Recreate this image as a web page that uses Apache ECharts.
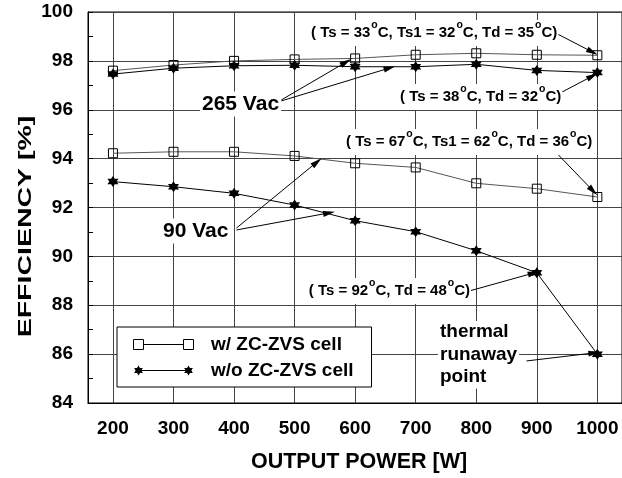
<!DOCTYPE html>
<html>
<head>
<meta charset="utf-8">
<script src="https://cdn.jsdelivr.net/npm/echarts@6/dist/echarts.min.js"></script>
<style>
html, body { margin: 0; padding: 0; background: #fff; }
#main { width: 622px; height: 478px; }
</style>
</head>
<body>
<div id="main"></div>
<script>
var power = [200, 300, 400, 500, 600, 700, 800, 900, 1000];
// 265 Vac
var zc265 = [97.6, 97.83, 98.0, 98.06, 98.1, 98.25, 98.31, 98.25, 98.23];
var no265 = [97.46, 97.7, 97.8, 97.82, 97.76, 97.76, 97.86, 97.61, 97.52];
// 90 Vac
var zc90 = [94.22, 94.28, 94.28, 94.11, 93.81, 93.64, 92.99, 92.77, 92.43];
var no90 = [93.06, 92.85, 92.58, 92.10, 91.46, 91.01, 90.23, 89.33, 86.0];

// annotation arrows, axis units: [fromW, fromEff, toW, toEff]
var arrows = [
  [931, 99.14, 992, 98.36],
  [478, 96.40, 585, 97.95],
  [478, 96.36, 657, 97.71],
  [939, 96.69, 992, 97.38],
  [931, 94.27, 993, 92.68],
  [404, 91.16, 537, 93.86],
  [404, 91.08, 557, 91.78],
  [788, 88.58, 895, 89.32],
  [883, 85.72, 995, 86.05]
];

var FONT = "'Liberation Sans', Arial, Helvetica, sans-serif";
var STAR = 'path://M10,0L12.89,5L18.66,5L15.77,10L18.66,15L12.89,15L10,20L7.11,15L1.34,15L4.23,10L1.34,5L7.11,5Z';
var LEG_SQ = 'path://M0,0L10,0L10,10L0,10Z M10,5L50,5 M50,0L60,0L60,10L50,10Z';
var LEG_STAR = 'path://M5,0L6.44,2.5L9.33,2.5L7.89,5L9.33,7.5L6.44,7.5L5,10L3.56,7.5L0.67,7.5L2.11,5L0.67,2.5L3.56,2.5Z' +
  'M55,0L56.44,2.5L59.33,2.5L57.89,5L59.33,7.5L56.44,7.5L55,10L53.56,7.5L50.67,7.5L52.11,5L50.67,2.5L53.56,2.5Z' +
  'M5,4.5L55,4.5L55,5.5L5,5.5Z';

function pairs(ys) {
  return power.map(function (p, i) { return [p, ys[i]]; });
}

function deg(s) {
  return s.replace(/°/g, '{sup|o}');
}

function note(text, x, y, align) {
  return {
    type: 'text', x: x, y: y, z: 100,
    style: {
      text: deg(text), align: align || 'left', verticalAlign: 'middle',
      fontFamily: FONT, fontSize: 15, fontWeight: 'bold', fill: '#000',
      lineHeight: 26, backgroundColor: '#fff', padding: [0, 1],
      rich: {
        sup: { fontSize: 10.5, fontWeight: 'bold', fontFamily: FONT, lineHeight: 9, verticalAlign: 'top', padding: [0, 0, 0, 1] }
      }
    }
  };
}

function bigText(text, x, y) {
  return {
    type: 'text', x: x, y: y, z: 100,
    style: {
      text: text, align: 'left', verticalAlign: 'middle',
      fontFamily: FONT, fontSize: 21, fontWeight: 'bold', fill: '#000',
      backgroundColor: '#fff', padding: [2, 2]
    }
  };
}

var arrowLines = arrows.map(function (a) {
  return [
    { coord: [a[0], a[1]], symbol: 'none' },
    { coord: [a[2], a[3]], symbol: 'path://M0,0L4,12L-4,12Z', symbolSize: [6, 12] }
  ];
});

var chart = echarts.init(document.getElementById('main'));
chart.setOption({
  animation: false,
  textStyle: { fontFamily: FONT },
  grid: {
    left: 88, top: 12, right: -2, bottom: 75,
    show: true, borderColor: '#000', borderWidth: 1
  },
  xAxis: {
    type: 'value', min: 158.8, max: 1040.7,
    name: 'OUTPUT POWER [W]', nameLocation: 'middle', nameGap: 48,
    nameTextStyle: { fontSize: 21.5, fontWeight: 'bold', color: '#000', padding: [0, 0, 0, 8] },
    axisLine: { show: true, lineStyle: { color: '#000' } },
    axisTick: { show: false, customValues: power },
    axisLabel: {
      customValues: power, fontSize: 19, fontWeight: 'bold', color: '#000', margin: 16,
      formatter: function (v) { return String(v); }
    },
    splitLine: { show: true, lineStyle: { color: '#444', width: 1 } }
  },
  yAxis: {
    type: 'value', min: 84, max: 100, interval: 2,
    axisLine: { show: true, lineStyle: { color: '#000' } },
    axisTick: { show: true, inside: true, length: 5, lineStyle: { color: '#000' } },
    minorTick: { show: true, splitNumber: 2, length: 5, lineStyle: { color: '#000' } },
    axisLabel: { fontSize: 19, fontWeight: 'bold', color: '#000', margin: 15 },
    splitLine: { show: true, lineStyle: { color: '#444', width: 1 } }
  },
  legend: {
    orient: 'vertical', left: 117, top: 327,
    padding: [8, 18, 7, 14], itemGap: 7,
    itemWidth: 63, itemHeight: 10,
    backgroundColor: '#fff', borderColor: '#000', borderWidth: 1,
    textStyle: { fontSize: 19, fontWeight: 'bold', color: '#000', lineHeight: 19, padding: [0, 0, 0, 11] },
    data: [
      { name: 'w/ ZC-ZVS cell', icon: LEG_SQ, itemStyle: { color: 'none', borderColor: '#000', borderWidth: 1 } },
      { name: 'w/o ZC-ZVS cell', icon: LEG_STAR, itemStyle: { color: '#000', borderWidth: 0 } }
    ]
  },
  graphic: [
    note('( Ts = 33°C, Ts1 = 32°C, Td = 35°C)', 310, 33),
    bigText('265 Vac', 200, 104),
    note('( Ts = 38°C, Td = 32°C)', 399, 97),
    note('( Ts = 67°C, Ts1 = 62°C, Td = 36°C)', 345, 142),
    bigText('90 Vac', 161, 231),
    note('( Ts = 92°C, Td = 48°C)', 471, 291, 'right'),
    {
      type: 'text', x: 438, y: 321, z: 100,
      style: {
        text: 'thermal\nrunaway\npoint', align: 'left', verticalAlign: 'top',
        fontFamily: FONT, fontSize: 19, fontWeight: 'bold', fill: '#000',
        lineHeight: 22.5, backgroundColor: '#fff', padding: [0, 2]
      }
    },
    {
      type: 'text', x: 26, y: 226.5, z: 100, rotation: Math.PI / 2, scaleX: 1.5,
      style: {
        text: 'EFFICIENCY [%]', align: 'center', verticalAlign: 'middle',
        fontFamily: FONT, fontSize: 19, fontWeight: 'bold', fill: '#000'
      }
    }
  ],
  series: [
    {
      name: 'w/ ZC-ZVS cell', type: 'line', data: pairs(zc265),
      symbol: 'rect', symbolSize: 9,
      itemStyle: { color: 'none', borderColor: '#000', borderWidth: 1 },
      lineStyle: { color: '#555', width: 1 }
    },
    {
      name: 'w/ ZC-ZVS cell', type: 'line', data: pairs(zc90),
      symbol: 'rect', symbolSize: 9,
      itemStyle: { color: 'none', borderColor: '#000', borderWidth: 1 },
      lineStyle: { color: '#555', width: 1 }
    },
    {
      name: 'w/o ZC-ZVS cell', type: 'line', data: pairs(no265),
      symbol: STAR, symbolSize: 11,
      itemStyle: { color: '#000' },
      lineStyle: { color: '#000', width: 1 }
    },
    {
      name: 'w/o ZC-ZVS cell', type: 'line', data: pairs(no90),
      symbol: STAR, symbolSize: 11,
      itemStyle: { color: '#000' },
      lineStyle: { color: '#000', width: 1 }
    },
    {
      name: 'notes', type: 'line', data: [],
      markLine: {
        silent: true, animation: false,
        label: { show: false },
        lineStyle: { color: '#000', width: 1, type: 'solid' },
        itemStyle: { color: '#000' },
        emphasis: { disabled: true },
        data: arrowLines
      }
    }
  ]
});
</script>
</body>
</html>
